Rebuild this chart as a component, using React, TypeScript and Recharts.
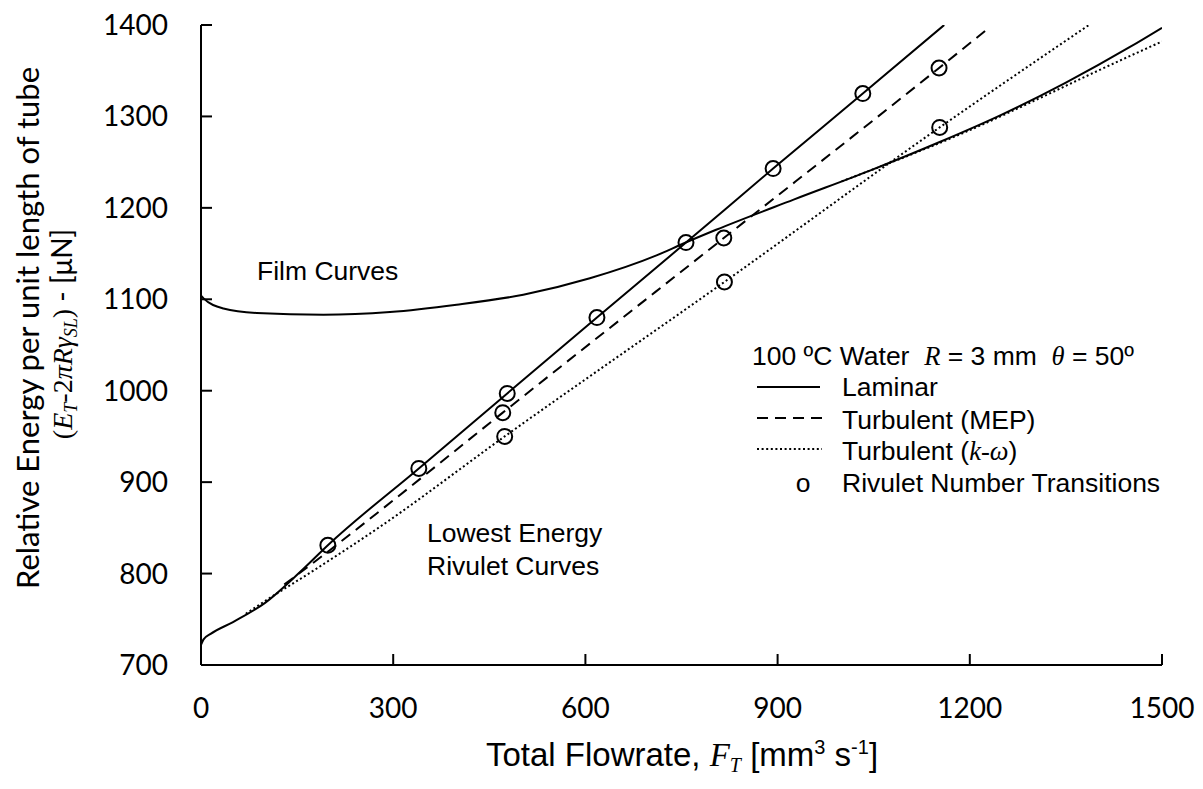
import { ComposedChart, Line, Scatter, XAxis, YAxis } from "recharts";

// film curve (laminar)
const filmX = [0, 4, 35, 87, 191, 295, 399, 503, 607, 711, 753, 804, 925, 1045, 1153, 1250, 1350, 1450, 1500];
const filmY = [1104, 1101, 1090, 1085, 1083, 1086, 1094, 1105, 1123, 1148, 1161, 1176, 1209, 1241, 1272, 1302, 1337, 1376, 1397];

// film curve, k-omega (only visible where it leaves the laminar one)
const filmKwX = [1000, 1100, 1200, 1300, 1400, 1500];
const filmKwY = [1229, 1256, 1285, 1317, 1350, 1382];

// lowest energy rivulet curves
const rivLamX = [0, 4, 15, 50, 100, 155, 198, 340, 478, 618, 757, 893, 1033, 1160];
const rivLamY = [722, 728, 734, 747, 768, 802, 831, 915, 997, 1080, 1162, 1243, 1325, 1400];

const rivMepX = [130, 200, 280, 471, 816, 1152, 1232];
const rivMepY = [788, 825, 869, 976, 1167, 1353, 1398];

const rivKwX = [70, 100, 175, 279, 474, 817, 1153, 1386];
const rivKwY = [756, 770, 803, 851, 950, 1119, 1288, 1400];

// rivulet number transitions
const transX = [198, 340, 478, 618, 757, 893, 1033, 471, 816, 1152, 474, 817, 1153];
const transY = [831, 915, 997, 1080, 1162, 1243, 1325, 976, 1167, 1353, 950, 1119, 1288];

const xTicks = [0, 300, 600, 900, 1200, 1500];
const yTicks = [700, 800, 900, 1000, 1100, 1200, 1300, 1400];

const toPts = (xs: number[], ys: number[]) => xs.map((x, i) => ({ x, y: ys[i] }));

const film = toPts(filmX, filmY);
const filmKw = toPts(filmKwX, filmKwY);
const rivLam = toPts(rivLamX, rivLamY);
const rivMep = toPts(rivMepX, rivMepY);
const rivKw = toPts(rivKwX, rivKwY);
const trans = toPts(transX, transY);

const SANS = "'Liberation Sans', Arial, sans-serif";
const TICK = "Lato, 'Open Sans', sans-serif";
const SERIF = "'Liberation Serif', 'Times New Roman', serif";

const DASH = "11 7";
const DOT = "2 2.6";
const FS = 26.5;
const NB = "\u00a0";

const Ring = (p: any) => (
  <circle cx={p.cx} cy={p.cy} r={7.5} fill="none" stroke="#000" strokeWidth={2} />
);

export default function App() {
  const lineCommon = {
    type: "monotone" as const,
    dataKey: "y",
    dot: false,
    activeDot: false,
    isAnimationActive: false,
    stroke: "#000",
    strokeWidth: 2,
  };
  return (
    <div style={{ position: "absolute", left: 0, top: 0, width: 1203, height: 789, background: "#fff" }}>
      <ComposedChart width={1203} height={789} margin={{ top: 25, right: 41, bottom: 24, left: 81 }}>
        <XAxis
          type="number"
          dataKey="x"
          domain={[0, 1500]}
          ticks={xTicks}
          allowDataOverflow
          height={100}
          stroke="#000"
          strokeWidth={2}
          tickSize={-11}
          tickMargin={44}
          tick={{ fill: "#000", fontSize: 28, fontFamily: TICK }}
        />
        <YAxis
          type="number"
          dataKey="y"
          domain={[700, 1400]}
          ticks={yTicks}
          allowDataOverflow
          width={120}
          stroke="#000"
          strokeWidth={2}
          tickSize={-11}
          tickMargin={44}
          tick={{ fill: "#000", fontSize: 28, fontFamily: TICK }}
        />
        <Line {...lineCommon} data={film} />
        <Line {...lineCommon} data={filmKw} strokeDasharray={DOT} />
        <Line {...lineCommon} data={rivLam} />
        <Line {...lineCommon} data={rivMep} strokeDasharray={DASH} />
        <Line {...lineCommon} data={rivKw} strokeDasharray={DOT} />
        <Scatter data={trans} shape={Ring} isAnimationActive={false} />
      </ComposedChart>

      <svg
        width={1203}
        height={789}
        style={{ position: "absolute", left: 0, top: 0, pointerEvents: "none" }}
      >
        {/* y axis title */}
        <g transform="translate(39,328) rotate(-90)">
          <text textAnchor="middle" fontFamily={TICK} fontSize={31} fill="#000">
            Relative Energy per unit length of tube
          </text>
        </g>
        <g transform="translate(72,334) rotate(-90)">
          <text textAnchor="middle" fontSize={28} fill="#000" fontFamily={TICK}>
            <tspan fontFamily={SERIF}>(</tspan>
            <tspan fontFamily={SERIF} fontStyle="italic">E</tspan>
            <tspan fontFamily={SERIF} fontStyle="italic" fontSize={18} dy={5}>T</tspan>
            <tspan fontFamily={SERIF} dy={-5}>-2</tspan>
            <tspan fontFamily={SERIF} fontStyle="italic">πRγ</tspan>
            <tspan fontFamily={SERIF} fontStyle="italic" fontSize={18} dy={5}>SL</tspan>
            <tspan fontFamily={SERIF} dy={-5}>)</tspan>
            <tspan>{NB}-{NB}[μN]</tspan>
          </text>
        </g>

        {/* x axis title */}
        <text x={682} y={766} textAnchor="middle" fontFamily={SANS} fontSize={33} fill="#000">
          <tspan>Total Flowrate,{NB}</tspan>
          <tspan fontFamily={SERIF} fontStyle="italic">F</tspan>
          <tspan fontFamily={SERIF} fontStyle="italic" fontSize={20} dy={6}>T</tspan>
          <tspan dy={-6}>{NB}[mm</tspan>
          <tspan fontSize={20} dy={-12}>3</tspan>
          <tspan dy={12}>{NB}s</tspan>
          <tspan fontSize={20} dy={-12}>-1</tspan>
          <tspan dy={12}>]</tspan>
        </text>

        {/* annotations */}
        <text x={257} y={280} fontFamily={SANS} fontSize={FS} fill="#000">Film Curves</text>
        <text x={427} y={542} fontFamily={SANS} fontSize={FS} fill="#000">Lowest Energy</text>
        <text x={427} y={575} fontFamily={SANS} fontSize={FS} fill="#000">Rivulet Curves</text>

        {/* legend */}
        <text x={752} y={365} fontFamily={SANS} fontSize={FS} fill="#000">
          <tspan>100 ºC Water{NB}{NB}</tspan>
          <tspan fontFamily={SERIF} fontStyle="italic">R</tspan>
          <tspan>{NB}= 3 mm{NB}{NB}</tspan>
          <tspan fontFamily={SERIF} fontStyle="italic">θ</tspan>
          <tspan>{NB}= 50º</tspan>
        </text>
        <line x1={757} x2={820} y1={387} y2={387} stroke="#000" strokeWidth={2} />
        <text x={842} y={396} fontFamily={SANS} fontSize={FS} fill="#000">Laminar</text>
        <line x1={757} x2={822} y1={418} y2={418} stroke="#000" strokeWidth={2} strokeDasharray={DASH} />
        <text x={842} y={429} fontFamily={SANS} fontSize={FS} fill="#000">Turbulent (MEP)</text>
        <line x1={757} x2={822} y1={449} y2={449} stroke="#000" strokeWidth={2} strokeDasharray={DOT} />
        <text x={842} y={460} fontFamily={SANS} fontSize={FS} fill="#000">
          <tspan>Turbulent (</tspan>
          <tspan fontFamily={SERIF} fontStyle="italic">k-ω</tspan>
          <tspan>)</tspan>
        </text>
        <text x={803} y={492} textAnchor="middle" fontFamily={SANS} fontSize={FS} fill="#000">o</text>
        <text x={842} y={492} fontFamily={SANS} fontSize={FS} fill="#000">Rivulet Number Transitions</text>
      </svg>
    </div>
  );
}
